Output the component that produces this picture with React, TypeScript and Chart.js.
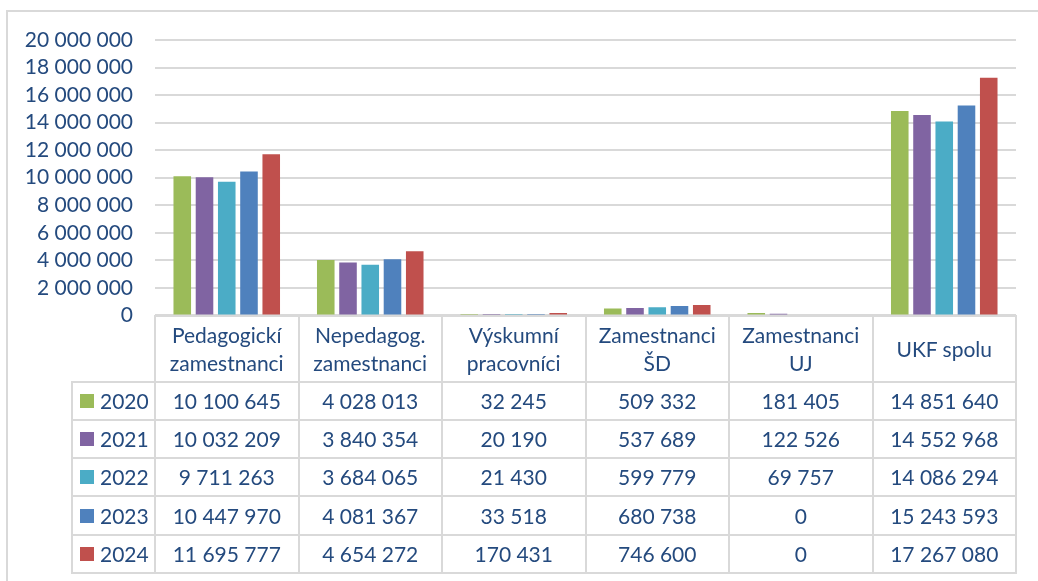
import React, { useEffect, useRef } from "react";
import { Chart, registerables } from "chart.js";

Chart.register(...registerables);

const categories: string[][] = [
  ["Pedagogickí", "zamestnanci"],
  ["Nepedagog.", "zamestnanci"],
  ["Výskumní", "pracovníci"],
  ["Zamestnanci", "ŠD"],
  ["Zamestnanci", "UJ"],
  ["UKF spolu"],
];

const years = ["2020", "2021", "2022", "2023", "2024"];

const values2020 = [10100645, 4028013, 32245, 509332, 181405, 14851640];
const values2021 = [10032209, 3840354, 20190, 537689, 122526, 14552968];
const values2022 = [9711263, 3684065, 21430, 599779, 69757, 14086294];
const values2023 = [10447970, 4081367, 33518, 680738, 0, 15243593];
const values2024 = [11695777, 4654272, 170431, 746600, 0, 17267080];

const seriesValues = [values2020, values2021, values2022, values2023, values2024];
const seriesColors = ["#9BBB59", "#8064A2", "#4BACC6", "#4F81BD", "#C0504D"];

const yMin = 0;
const yMax = 20000000;
const yStep = 2000000;

const TEXT = "#244A7E";
const LINE = "#D9D9D9";
const FONT = "Lato, 'Open Sans', sans-serif";
const FSIZE = 21;

const fmt = (n: number) => String(n).replace(/\B(?=(\d{3})+(?!\d))/g, " ");

// layout constants
const W = 1038;
const PLOT_LEFT = 155;
const PLOT_RIGHT = 1016;
const PLOT_TOP = 40;
const PLOT_BOTTOM = 316;
const CANVAS_H = 350;
const LEG_LEFT = 72;
const HEADER_BOTTOM = 381.5;
const ROW_H = 38.3;

export default function App() {
  const ref = useRef<HTMLCanvasElement>(null);

  useEffect(() => {
    if (!ref.current) return;
    const padding = {
      top: PLOT_TOP,
      left: 0,
      right: W - PLOT_RIGHT,
      bottom: CANVAS_H - PLOT_BOTTOM,
    };
    const chart = new Chart(ref.current, {
      type: "bar",
      data: {
        labels: categories,
        datasets: years.map((y, i) => ({
          label: y,
          data: seriesValues[i],
          backgroundColor: seriesColors[i],
          borderWidth: 0,
          categoryPercentage: 0.775,
          barPercentage: 0.79,
        })),
      },
      options: {
        animation: false,
        responsive: false,
        devicePixelRatio: 1,
        layout: { padding },
        plugins: {
          legend: { display: false },
          tooltip: { enabled: false },
        },
        scales: {
          x: { display: false },
          y: {
            min: yMin,
            max: yMax,
            afterFit: (scale: any) => {
              scale.width = PLOT_LEFT;
            },
            border: { display: false },
            grid: { color: LINE, lineWidth: 2, drawTicks: false },
            ticks: {
              stepSize: yStep,
              autoSkip: false,
              padding: 22,
              color: TEXT,
              font: { family: FONT, size: FSIZE },
              callback: (v: any) => fmt(Number(v)),
            },
          },
        },
      },
    });
    // correct the plot area so it lines up with the table below it
    const dBottom = chart.chartArea.bottom - PLOT_BOTTOM;
    const dTop = chart.chartArea.top - PLOT_TOP;
    if (dBottom !== 0 || dTop !== 0) {
      (chart.options.layout as any).padding = {
        ...padding,
        bottom: padding.bottom + dBottom,
        top: padding.top - dTop,
      };
      chart.update();
    }
    return () => chart.destroy();
  }, []);

  const colW = (PLOT_RIGHT - PLOT_LEFT) / categories.length;
  const tableBottom = HEADER_BOTTOM + ROW_H * years.length;

  const lines: React.ReactNode[] = [];
  lines.push(
    <div key="ht" style={{ position: "absolute", left: PLOT_LEFT - 1, top: PLOT_BOTTOM - 1, width: PLOT_RIGHT - PLOT_LEFT + 2, height: 2, background: LINE }} />
  );
  for (let r = 0; r <= years.length; r++) {
    const y = HEADER_BOTTOM + r * ROW_H;
    lines.push(
      <div key={"h" + r} style={{ position: "absolute", left: LEG_LEFT - 1, top: y - 1, width: PLOT_RIGHT - LEG_LEFT + 2, height: 2, background: LINE }} />
    );
  }
  for (let c = 0; c <= categories.length; c++) {
    const x = PLOT_LEFT + c * colW;
    lines.push(
      <div key={"v" + c} style={{ position: "absolute", left: x - 1, top: PLOT_BOTTOM - 1, width: 2, height: tableBottom - PLOT_BOTTOM + 2, background: LINE }} />
    );
  }
  lines.push(
    <div key="vl" style={{ position: "absolute", left: LEG_LEFT - 1, top: HEADER_BOTTOM - 1, width: 2, height: tableBottom - HEADER_BOTTOM + 2, background: LINE }} />
  );

  const textStyle: React.CSSProperties = {
    position: "absolute",
    display: "flex",
    alignItems: "center",
    justifyContent: "center",
    textAlign: "center",
    color: TEXT,
    fontFamily: FONT,
    fontSize: FSIZE,
    lineHeight: "28px",
    whiteSpace: "nowrap",
  };

  const cells: React.ReactNode[] = [];
  categories.forEach((cat, c) => {
    cells.push(
      <div key={"hc" + c} style={{ ...textStyle, left: PLOT_LEFT + c * colW, top: PLOT_BOTTOM, width: colW, height: HEADER_BOTTOM - PLOT_BOTTOM, flexDirection: "column" }}>
        {cat.map((t, k) => (
          <span key={k}>{t}</span>
        ))}
      </div>
    );
  });
  years.forEach((yr, r) => {
    const top = HEADER_BOTTOM + r * ROW_H;
    cells.push(
      <div key={"lg" + r} style={{ ...textStyle, left: LEG_LEFT, top, width: PLOT_LEFT - LEG_LEFT, height: ROW_H, justifyContent: "flex-start" }}>
        <span style={{ display: "inline-block", width: 14, height: 14, background: seriesColors[r], marginLeft: 8, marginRight: 6 }} />
        <span>{yr}</span>
      </div>
    );
    seriesValues[r].forEach((v, c) => {
      cells.push(
        <div key={"c" + r + "_" + c} style={{ ...textStyle, left: PLOT_LEFT + c * colW, top, width: colW, height: ROW_H }}>
          {fmt(v)}
        </div>
      );
    });
  });

  return (
    <div style={{ position: "fixed", left: 0, top: 0, width: W, height: 581, background: "#fff", overflow: "hidden" }}>
      <div style={{ position: "absolute", left: 6, top: 10, width: W, height: 600, borderLeft: `2px solid ${LINE}`, borderTop: `2px solid ${LINE}` }} />
      <canvas ref={ref} width={W} height={CANVAS_H} style={{ position: "absolute", left: 0, top: 0 }} />
      {lines}
      {cells}
    </div>
  );
}
